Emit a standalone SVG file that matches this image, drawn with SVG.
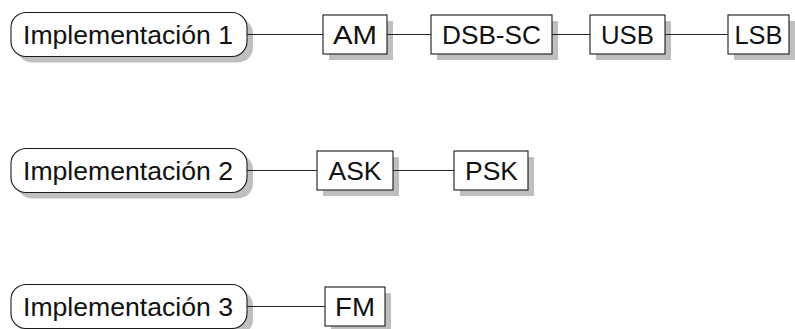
<svg xmlns="http://www.w3.org/2000/svg" width="795" height="329" viewBox="0 0 795 329">
  <style>
    .shadow { fill: #bfbfbf; stroke: none; }
    .box { fill: #ffffff; stroke: #1a1a1a; stroke-width: 1.1; }
    .lbl { font-family: "Liberation Sans", Arial, sans-serif; font-size: 26.5px; fill: #111111; text-anchor: middle; }
    .wire { stroke: #222222; stroke-width: 1.1; fill: none; }
  </style>

  <!-- row 1 -->
  <g id="impl1">
    <rect class="shadow" x="17" y="18.5" width="236" height="44" rx="15"/>
    <rect class="box" x="11" y="12.5" width="236" height="44" rx="15"/>
    <text class="lbl" x="128" y="44" textLength="210" lengthAdjust="spacingAndGlyphs">Implementación 1</text>
  </g>
  <g id="am">
    <rect class="shadow" x="329" y="21" width="64" height="39"/>
    <rect class="box" x="323" y="15" width="64" height="39"/>
    <text class="lbl" x="355" y="44" textLength="44" lengthAdjust="spacingAndGlyphs">AM</text>
  </g>
  <g id="dsbsc">
    <rect class="shadow" x="437" y="21" width="121" height="39"/>
    <rect class="box" x="431" y="15" width="121" height="39"/>
    <text class="lbl" x="491.5" y="44" textLength="99" lengthAdjust="spacingAndGlyphs">DSB-SC</text>
  </g>
  <g id="usb">
    <rect class="shadow" x="596" y="21" width="75" height="39"/>
    <rect class="box" x="590" y="15" width="75" height="39"/>
    <text class="lbl" x="627.5" y="44" textLength="53" lengthAdjust="spacingAndGlyphs">USB</text>
  </g>
  <g id="lsb">
    <rect class="shadow" x="734" y="21" width="61" height="39"/>
    <rect class="box" x="728" y="15" width="61" height="39"/>
    <text class="lbl" x="758.5" y="44" textLength="48" lengthAdjust="spacingAndGlyphs">LSB</text>
  </g>

  <!-- row 2 -->
  <g id="impl2">
    <rect class="shadow" x="17" y="154.5" width="236" height="44" rx="15"/>
    <rect class="box" x="11" y="148.5" width="236" height="44" rx="15"/>
    <text class="lbl" x="128" y="180" textLength="210" lengthAdjust="spacingAndGlyphs">Implementación 2</text>
  </g>
  <g id="ask">
    <rect class="shadow" x="323" y="157" width="76" height="39"/>
    <rect class="box" x="317" y="151" width="76" height="39"/>
    <text class="lbl" x="355" y="180" textLength="53" lengthAdjust="spacingAndGlyphs">ASK</text>
  </g>
  <g id="psk">
    <rect class="shadow" x="460" y="157" width="74" height="39"/>
    <rect class="box" x="454" y="151" width="74" height="39"/>
    <text class="lbl" x="491.5" y="180" textLength="53" lengthAdjust="spacingAndGlyphs">PSK</text>
  </g>

  <!-- row 3 -->
  <g id="impl3">
    <rect class="shadow" x="17" y="290.5" width="236" height="44" rx="15"/>
    <rect class="box" x="11" y="284.5" width="236" height="44" rx="15"/>
    <text class="lbl" x="128" y="316" textLength="210" lengthAdjust="spacingAndGlyphs">Implementación 3</text>
  </g>
  <g id="fm">
    <rect class="shadow" x="331" y="293" width="60" height="39"/>
    <rect class="box" x="325" y="287" width="60" height="39"/>
    <text class="lbl" x="355" y="316" textLength="40" lengthAdjust="spacingAndGlyphs">FM</text>
  </g>

  <!-- connectors, drawn last so they pass over the drop shadows -->
  <g id="connectors">
    <line class="wire" x1="247" y1="34.5" x2="323" y2="34.5"/>
    <line class="wire" x1="387" y1="34.5" x2="431" y2="34.5"/>
    <line class="wire" x1="552" y1="34.5" x2="590" y2="34.5"/>
    <line class="wire" x1="665" y1="34.5" x2="728" y2="34.5"/>
    <line class="wire" x1="247" y1="170.5" x2="317" y2="170.5"/>
    <line class="wire" x1="393" y1="170.5" x2="454" y2="170.5"/>
    <line class="wire" x1="247" y1="306.5" x2="325" y2="306.5"/>
  </g>
</svg>
